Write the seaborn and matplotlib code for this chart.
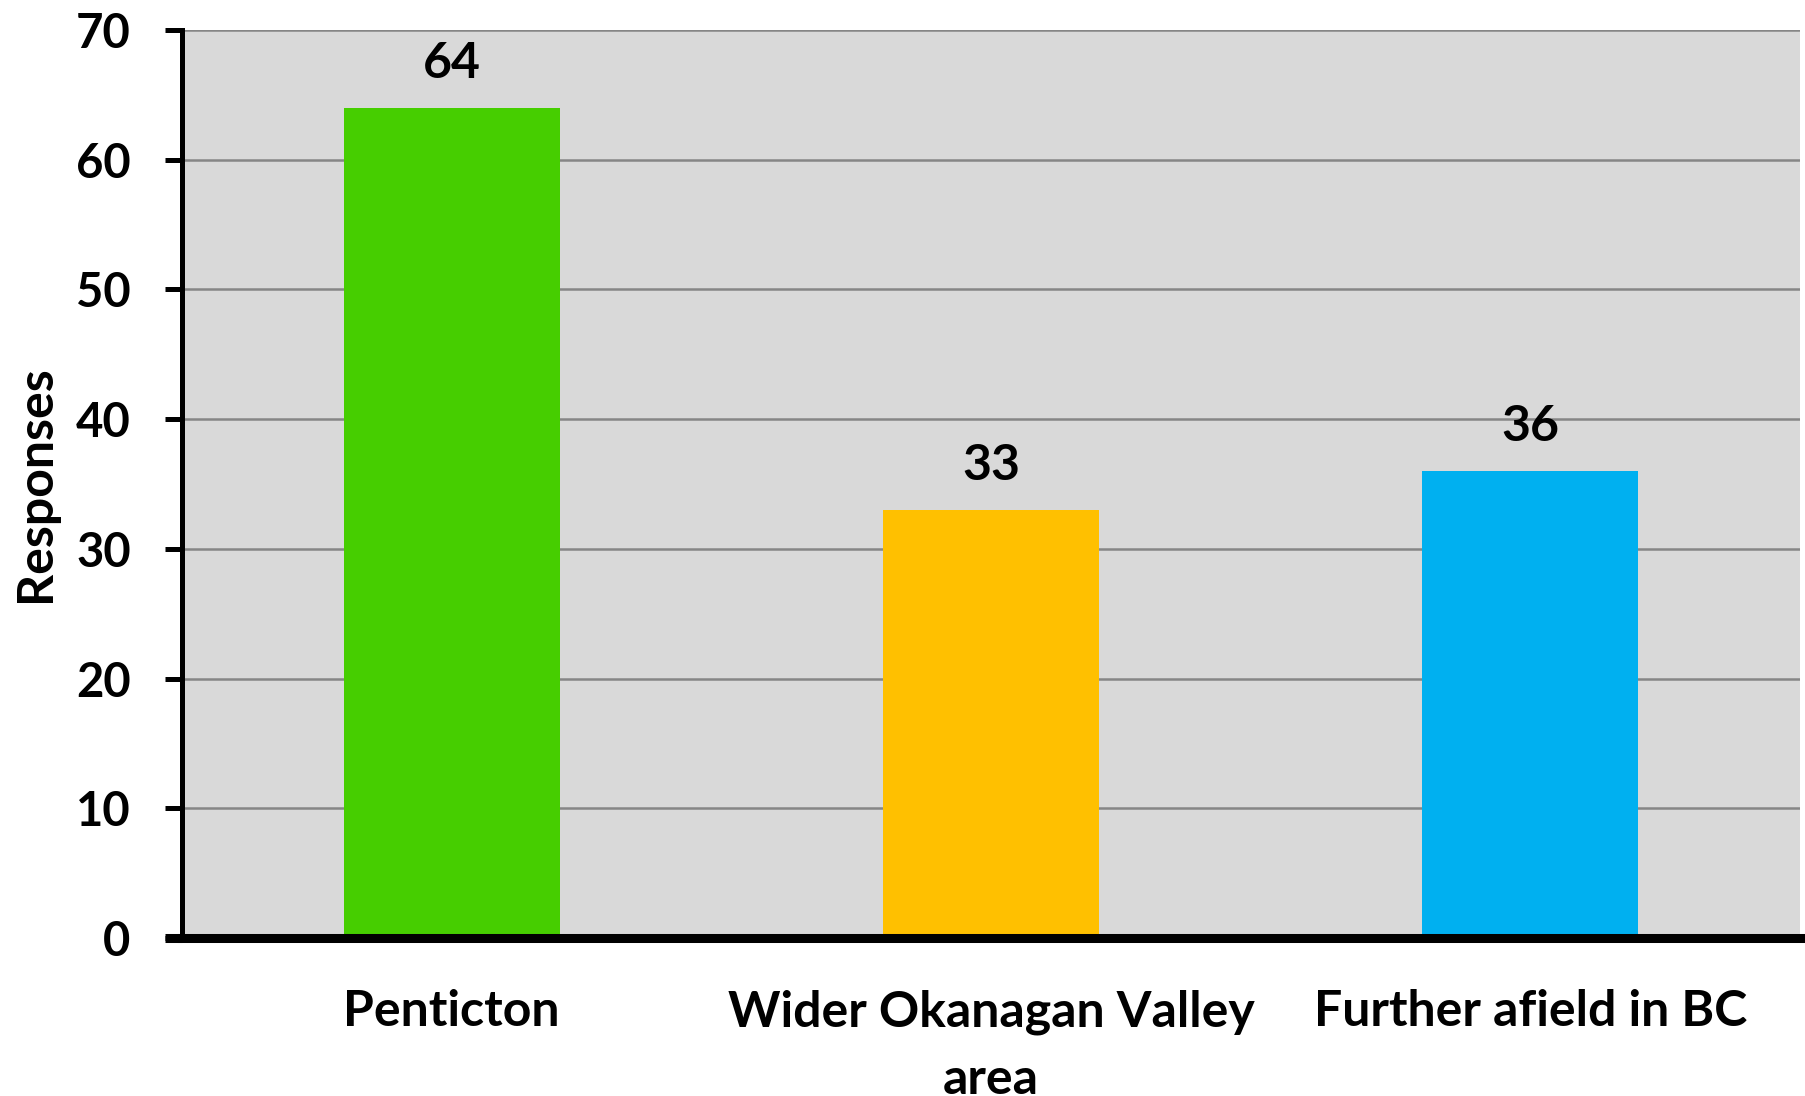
import seaborn as sns
import matplotlib.pyplot as plt
import pandas as pd
from matplotlib.lines import Line2D

categories = ['Penticton', 'Wider Okanagan Valley\narea', 'Further afield in BC']
responses = [64, 33, 36]
bar_colors = ['#46CE00', '#FFC000', '#00B0F0']
y_ticks = [0, 10, 20, 30, 40, 50, 60, 70]

df = pd.DataFrame({'place': categories, 'responses': responses})

sns.set_theme(style='white')
plt.rcParams['font.family'] = ['Lato', 'DejaVu Sans']
plt.rcParams['font.weight'] = 'bold'

fig = plt.figure(figsize=(18.06, 10.96), dpi=100)
# axes: x 182..1800 px, y 30..938 px
ax = fig.add_axes([182 / 1806, 158 / 1096, 1618 / 1806, 908 / 1096])

g = sns.barplot(data=df, x='place', y='responses', hue='place',
                palette=bar_colors, width=0.40, legend=False, saturation=1,
                linewidth=0, ax=ax)

ax.set_facecolor('#D9D9D9')
ax.set_ylim(0, 70)
ax.set_xlim(-0.5, 2.5)
ax.set_yticks(y_ticks)
ax.yaxis.grid(True, color='#868686', linewidth=1.8)
ax.set_axisbelow(True)

for side in ['top', 'right']:
    ax.spines[side].set_visible(False)
ax.spines['left'].set_linewidth(3.6)
ax.spines['left'].set_color('black')
ax.spines['bottom'].set_linewidth(6.5)
ax.spines['bottom'].set_color('black')
ax.spines['bottom'].set_zorder(5)

# the base line reaches a bit past the y axis
ax.add_line(Line2D([-0.0105, 0], [0, 0], transform=ax.transAxes, color='black',
                   linewidth=6.5, clip_on=False, solid_capstyle='butt'))

ax.tick_params(axis='y', left=True, length=12, width=3.6, pad=25,
               labelsize=34, color='black')
ax.tick_params(axis='x', bottom=False, length=0, pad=37, labelsize=36)
for lbl in ax.get_xticklabels() + ax.get_yticklabels():
    lbl.set_fontweight('bold')
    lbl.set_color('black')
for lbl in ax.get_xticklabels():
    lbl.set_linespacing(1.6)

ax.set_xlabel('')
ax.set_ylabel('Responses', fontsize=36, fontweight='bold', labelpad=13, color='black')

for c in ax.containers:
    ax.bar_label(c, fontsize=36, fontweight='bold', padding=16, color='black')

fig.savefig('out.png', dpi=100)
